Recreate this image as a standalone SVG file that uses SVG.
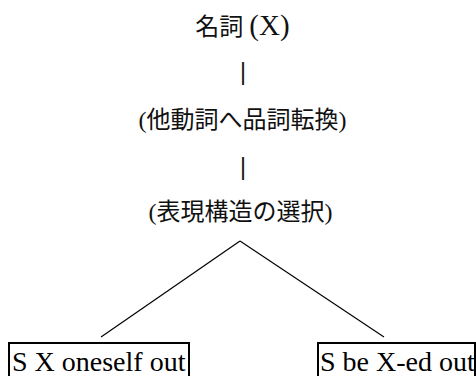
<svg xmlns="http://www.w3.org/2000/svg" width="476" height="376" viewBox="0 0 476 376">
<style>
.jp{font-family:"Liberation Serif","Noto Sans CJK JP",serif;font-size:24px;fill:#111;text-anchor:middle}
.big{font-size:29px}
.bar{font-family:"Liberation Sans",sans-serif;font-size:23px;fill:#111;text-anchor:middle}
.en{font-family:"Liberation Serif","Times New Roman",serif;font-size:28px;fill:#000}
.box{fill:none;stroke:#000;stroke-width:2}
.edge{stroke:#000;stroke-width:1.2;fill:none}
</style>
<rect width="476" height="376" fill="#fff"/>
<g id="n1"><text class="jp" x="242.5" y="35">名詞 <tspan class="big">(X)</tspan></text></g>
<g id="bar1"><text class="bar" x="243" y="79.5">|</text></g>
<g id="n2"><text class="jp" x="242.5" y="128">(他動詞へ品詞転換)</text></g>
<g id="bar2"><text class="bar" x="243" y="174.5">|</text></g>
<g id="n3"><text class="jp" x="240.5" y="220">(表現構造の選択)</text></g>
<g id="connectors">
<line class="edge" x1="240" y1="241" x2="101" y2="337"/>
<line class="edge" x1="240" y1="241" x2="384" y2="337"/>
</g>
<g id="left"><rect class="box" x="9" y="343" width="180" height="40"/><text class="en" x="12" y="371">S X oneself out</text></g>
<g id="right"><rect class="box" x="318" y="343" width="157" height="40"/><text class="en" x="320" y="371">S be X-ed out</text></g>
</svg>
